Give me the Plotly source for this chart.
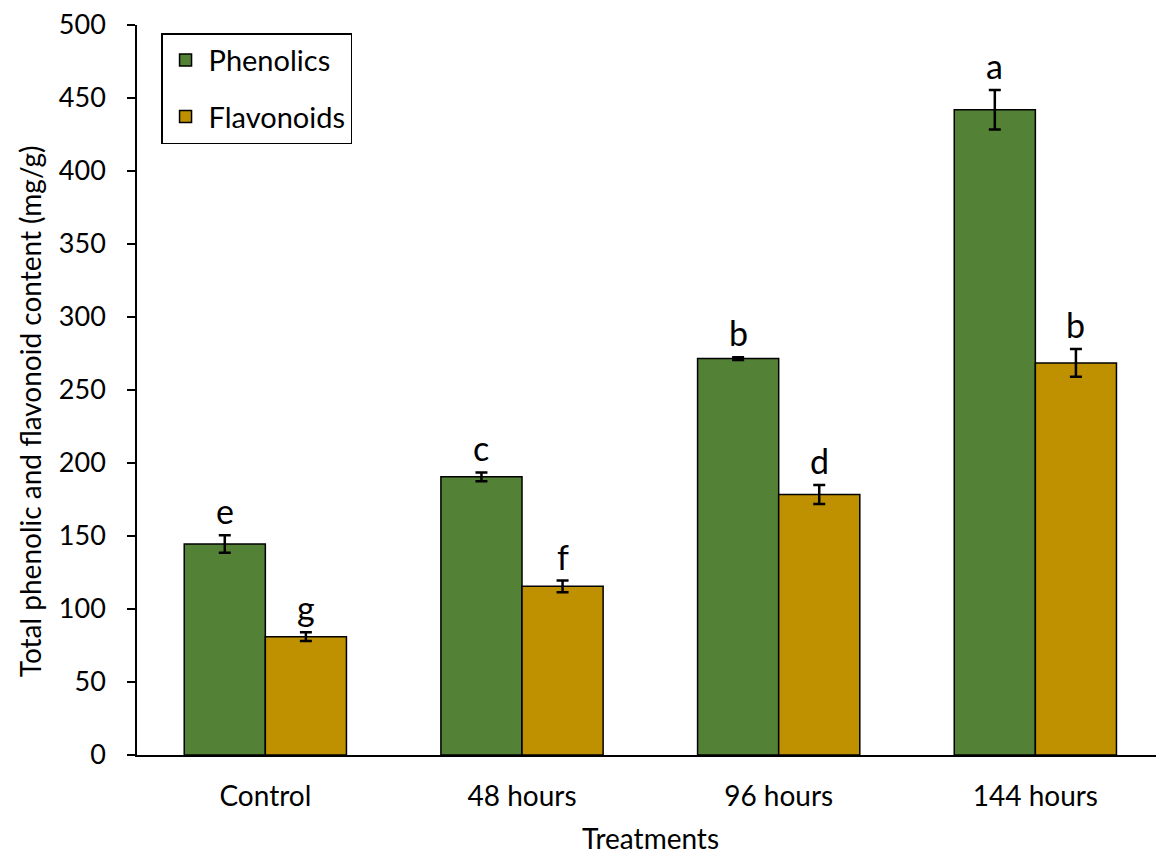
import plotly.graph_objects as go

# Treatment groups and measured contents (mg/g)
treatments = ["Control", "48 hours", "96 hours", "144 hours"]
phenolics = [144.5, 190.5, 271.5, 442.0]
phenolics_err = [6.0, 3.0, 1.0, 13.5]
phenolics_letters = ["e", "c", "b", "a"]
flavonoids = [81.0, 115.5, 178.5, 268.5]
flavonoids_err = [3.0, 4.0, 6.5, 9.5]
flavonoids_letters = ["g", "f", "d", "b"]

GREEN = "#538135"
GOLD = "#BF9000"
FONT = "Lato"
BAR_W = 0.316

idx = list(range(len(treatments)))
x_ph = [i - BAR_W / 2 for i in idx]
x_fl = [i + BAR_W / 2 for i in idx]

fig = go.Figure()
fig.add_trace(go.Bar(
    x=x_ph, y=phenolics, width=BAR_W, name="Phenolics", legendgroup="p",
    marker=dict(color=GREEN, line=dict(color="black", width=1.5)),
    error_y=dict(type="data", array=phenolics_err, color="black", thickness=2.5, width=6),
))
fig.add_trace(go.Bar(
    x=x_fl, y=flavonoids, width=BAR_W, name="Flavonoids", legendgroup="f",
    marker=dict(color=GOLD, line=dict(color="black", width=1.5)),
    error_y=dict(type="data", array=flavonoids_err, color="black", thickness=2.5, width=6),
))

# Significance letters above each error bar
for xs, ys, es, ls in [(x_ph, phenolics, phenolics_err, phenolics_letters),
                       (x_fl, flavonoids, flavonoids_err, flavonoids_letters)]:
    for x, y, e, l in zip(xs, ys, es, ls):
        fig.add_annotation(x=x, y=y + e, text=l, showarrow=False,
                           yanchor="bottom", yshift=2,
                           font=dict(family=FONT, size=34, color="black"))

# Axis titles
fig.add_annotation(text="Total phenolic and flavonoid content (mg/g)",
                   xref="paper", yref="paper", x=-0.105, y=0.471,
                   xanchor="center", yanchor="middle",
                   textangle=-90, showarrow=False,
                   font=dict(family=FONT, size=28, color="black"))
fig.add_annotation(text="Treatments", xref="paper", yref="paper",
                   x=0.504, y=-0.1384, xanchor="center", yanchor="bottom",
                   showarrow=False, borderpad=0,
                   font=dict(family=FONT, size=28, color="black"))

fig.update_layout(
    width=1156, height=856,
    margin=dict(l=137, r=0, t=25, b=101),
    plot_bgcolor="white", paper_bgcolor="white",
    barmode="overlay",
    font=dict(family=FONT, size=28, color="black"),
    showlegend=True,
    legend=dict(
        x=0.0236, y=0.989, xanchor="left", yanchor="top",
        bordercolor="black", borderwidth=1.5, bgcolor="white",
        font=dict(family=FONT, size=29, color="black"),
        traceorder="grouped", tracegroupgap=16, itemwidth=36,
        entrywidth=200,
    ),
    xaxis=dict(
        tickmode="array", tickvals=idx, ticktext=treatments,
        range=[-0.5, 3.47], showline=True, linecolor="black", linewidth=1.5,
        ticks="", showgrid=False, zeroline=False, ticklabelstandoff=16,
        tickfont=dict(size=28),
    ),
    yaxis=dict(
        range=[0, 500], dtick=50, showline=True, linecolor="black", linewidth=1.5,
        ticks="outside", ticklen=8, tickwidth=1.5, tickcolor="black",
        showgrid=False, zeroline=False, ticklabelstandoff=16,
        tickfont=dict(size=27),
    ),
)

fig.write_html("out.html")
